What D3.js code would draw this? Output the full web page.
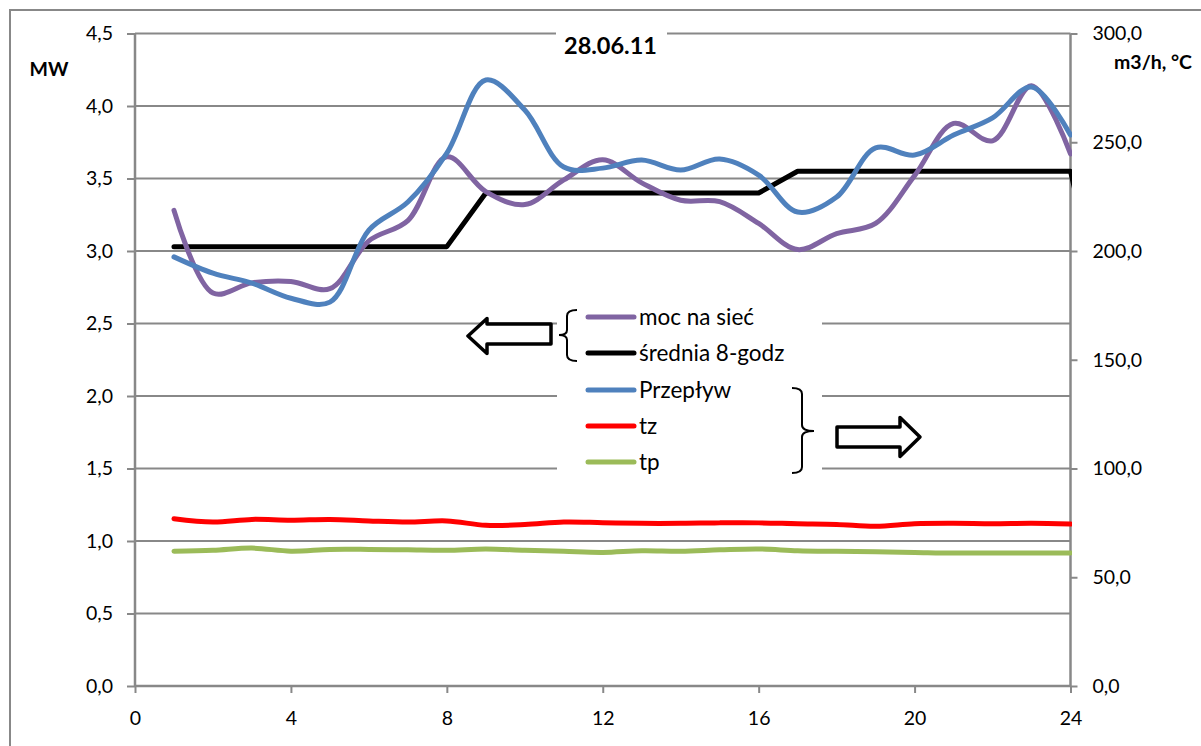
<!DOCTYPE html>
<html>
<head>
<meta charset="utf-8">
<script src="https://cdn.jsdelivr.net/npm/d3@7"></script>
<style>
  body { margin: 0; background: #fff; }
  svg { display: block; }
  text { font-family: Lato, "Open Sans", "DejaVu Sans", sans-serif; fill: #000; }
</style>
</head>
<body>
<svg id="chart" width="1201" height="746"></svg>
<script>
// Hours of the day (1..24)
const hours = [1, 2, 3, 4, 5, 6, 7, 8, 9, 10, 11, 12, 13, 14, 15, 16, 17, 18, 19, 20, 21, 22, 23, 24];

// Left axis series [MW]
const mocNaSiec = [3.28, 2.71, 2.78, 2.79, 2.74, 3.07, 3.21, 3.65, 3.41, 3.32, 3.49, 3.63,
                   3.47, 3.35, 3.34, 3.19, 3.01, 3.12, 3.19, 3.52, 3.88, 3.76, 4.14, 3.67];
// 8-hour average; the next block (hour 25) starts beyond the axis end
const sredniaHours = [1, 2, 3, 4, 5, 6, 7, 8, 9, 10, 11, 12, 13, 14, 15, 16, 17, 18, 19, 20, 21, 22, 23, 24, 25];
const srednia8 = [3.03, 3.03, 3.03, 3.03, 3.03, 3.03, 3.03, 3.03,
                  3.40, 3.40, 3.40, 3.40, 3.40, 3.40, 3.40, 3.40,
                  3.55, 3.55, 3.55, 3.55, 3.55, 3.55, 3.55, 3.55, 2.40];

// Right axis series [m3/h, °C]
const przeplyw = [197.3, 189.8, 185.2, 178.3, 176.5, 209.6, 222.5, 245.0, 278.6, 264.8, 238.6, 238.1,
                  241.8, 237.2, 242.3, 234.9, 217.9, 224.8, 247.4, 244.1, 253.3, 261.2, 275.4, 253.3];
const tz = [76.9, 75.4, 76.6, 76.2, 76.6, 75.9, 75.4, 75.9, 73.9, 74.2, 75.4, 75.1,
            74.8, 74.8, 75.0, 75.0, 74.6, 74.3, 73.4, 74.6, 74.8, 74.6, 74.8, 74.5];
const tp = [62.0, 62.4, 63.4, 62.0, 62.8, 62.8, 62.6, 62.4, 63.0, 62.4, 61.9, 61.4,
            62.2, 62.0, 62.6, 63.0, 62.2, 61.9, 61.7, 61.4, 61.1, 61.2, 61.2, 61.2];

// Tick labels
const xTicks = [0, 4, 8, 12, 16, 20, 24];
const leftTicks = [0, 0.5, 1.0, 1.5, 2.0, 2.5, 3.0, 3.5, 4.0, 4.5];
const rightTicks = [0, 50, 100, 150, 200, 250, 300];

const title = "28.06.11";
const leftUnit = "MW";
const rightUnit = "m3/h, °C";

const legendNames = ["moc na sieć", "średnia 8-godz", "Przepływ", "tz", "tp"];
const legendColors = ["#8064A2", "#000000", "#4F81BD", "#FF0000", "#9BBB59"];

const svg = d3.select("#chart");
const plot = { left: 135, right: 1070.5, top: 33.5, bottom: 686 };
const gridColor = "#888888";
const fmt = v => v.toFixed(1).replace(".", ",");

const x = d3.scaleLinear().domain([0, 24]).range([plot.left, plot.right]);
const yL = d3.scaleLinear().domain([0, 4.5]).range([plot.bottom, plot.top]);
const yR = d3.scaleLinear().domain([0, 300]).range([plot.bottom, plot.top]);

// Outer chart frame
svg.append("rect")
  .attr("x", 10).attr("y", 10).attr("width", 1230).attr("height", 780)
  .attr("fill", "none").attr("stroke", gridColor).attr("stroke-width", 2);

// Horizontal gridlines
svg.append("g").selectAll("line").data(leftTicks.filter(d => d > 0)).join("line")
  .attr("x1", plot.left).attr("x2", plot.right)
  .attr("y1", d => yL(d)).attr("y2", d => yL(d))
  .attr("stroke", gridColor).attr("stroke-width", 2);

// Left axis
const axL = svg.append("g").attr("transform", `translate(${plot.left},0)`)
  .call(d3.axisLeft(yL).tickValues(leftTicks).tickFormat(fmt).tickSize(8).tickPadding(14));
// Right axis
const axR = svg.append("g").attr("transform", `translate(${plot.right},0)`)
  .call(d3.axisRight(yR).tickValues(rightTicks).tickFormat(fmt).tickSize(7).tickPadding(15));
// Bottom axis
const axB = svg.append("g").attr("transform", `translate(0,${plot.bottom})`)
  .call(d3.axisBottom(x).tickValues(xTicks).tickFormat(d3.format("d")).tickSize(7).tickPadding(18));

[axL, axR, axB].forEach(ax => {
  ax.select(".domain").attr("stroke", gridColor).attr("stroke-width", 2.5);
  ax.selectAll(".tick line").attr("stroke", gridColor).attr("stroke-width", 2);
  ax.selectAll(".tick text").attr("font-size", 19.5).attr("font-family", "Lato, 'Open Sans', sans-serif").attr("fill", "#000");
});
axL.select(".domain").attr("d", `M0,${plot.top}V${plot.bottom}`);
axR.select(".domain").attr("d", `M0,${plot.top}V${plot.bottom}`);
axB.select(".domain").attr("d", `M${plot.left},0H${plot.right}`);

// Clip for series
svg.append("clipPath").attr("id", "plotClip").append("rect")
  .attr("x", plot.left).attr("y", plot.top - 10)
  .attr("width", plot.right - plot.left + 1.5).attr("height", plot.bottom - plot.top + 10);

const series = svg.append("g").attr("clip-path", "url(#plotClip)");
const smooth = d3.curveCatmullRom.alpha(0.5);

function drawLine(xs, ys, yScale, color, width, curve) {
  const pts = xs.map((h, i) => [h, ys[i]]);
  series.append("path")
    .datum(pts)
    .attr("fill", "none")
    .attr("stroke", color)
    .attr("stroke-width", width)
    .attr("stroke-linejoin", "round")
    .attr("stroke-linecap", "round")
    .attr("d", d3.line().x(d => x(d[0])).y(d => yScale(d[1])).curve(curve));
}

drawLine(hours, tp, yR, legendColors[4], 5, smooth);
drawLine(hours, tz, yR, legendColors[3], 5, smooth);
drawLine(sredniaHours, srednia8, yL, legendColors[1], 5, d3.curveLinear);
drawLine(hours, mocNaSiec, yL, legendColors[0], 5, smooth);
drawLine(hours, przeplyw, yR, legendColors[2], 5, smooth);

// Title with white backdrop
svg.append("rect").attr("x", 556).attr("y", 28).attr("width", 111).attr("height", 34).attr("fill", "#fff");
svg.append("text").attr("x", 610.5).attr("y", 54).attr("text-anchor", "middle")
  .attr("font-size", 23.5).attr("font-weight", "bold").text(title);

// Axis unit labels
svg.append("text").attr("x", 49).attr("y", 76).attr("text-anchor", "middle")
  .attr("font-size", 19.5).attr("font-weight", "bold").text(leftUnit);
svg.append("text").attr("x", 1153).attr("y", 69).attr("text-anchor", "middle")
  .attr("font-size", 19.5).attr("font-weight", "bold").text(rightUnit);

// Legend
const legend = svg.append("g");
legend.append("rect").attr("x", 557).attr("y", 298).attr("width", 265).attr("height", 184).attr("fill", "#fff");
const rowY = [317, 353, 390, 426, 462];
legendNames.forEach((name, i) => {
  legend.append("line")
    .attr("x1", 588).attr("x2", 634).attr("y1", rowY[i]).attr("y2", rowY[i])
    .attr("stroke", legendColors[i]).attr("stroke-width", 5).attr("stroke-linecap", "round");
  legend.append("text").attr("x", 639).attr("y", rowY[i] + 8)
    .attr("font-size", 22.5).text(name);
});

// Arrows and braces grouping the series by axis
const annot = svg.append("g").attr("fill", "#fff").attr("stroke", "#000")
  .attr("stroke-width", 3.5).attr("stroke-linejoin", "round");
annot.append("path")
  .attr("d", "M468,336 L487,318.5 L487,324 L551,324 L551,344 L487,344 L487,353.5 Z");
annot.append("path")
  .attr("d", "M920,437 L900,417.5 L900,427 L837,427 L837,447 L900,447 L900,456.5 Z");

const brace = svg.append("g").attr("fill", "none").attr("stroke", "#000").attr("stroke-width", 2);
brace.append("path")
  .attr("d", "M577,310 Q567,310 567,316 L567,330 Q567,335 559,335 Q567,335 567,340 L567,355 Q567,361 577,361");
brace.append("path")
  .attr("d", "M792,388 Q802,388 802,394 L802,425 Q802,431 814,431 Q802,431 802,437 L802,467 Q802,473 792,473");
</script>
</body>
</html>
